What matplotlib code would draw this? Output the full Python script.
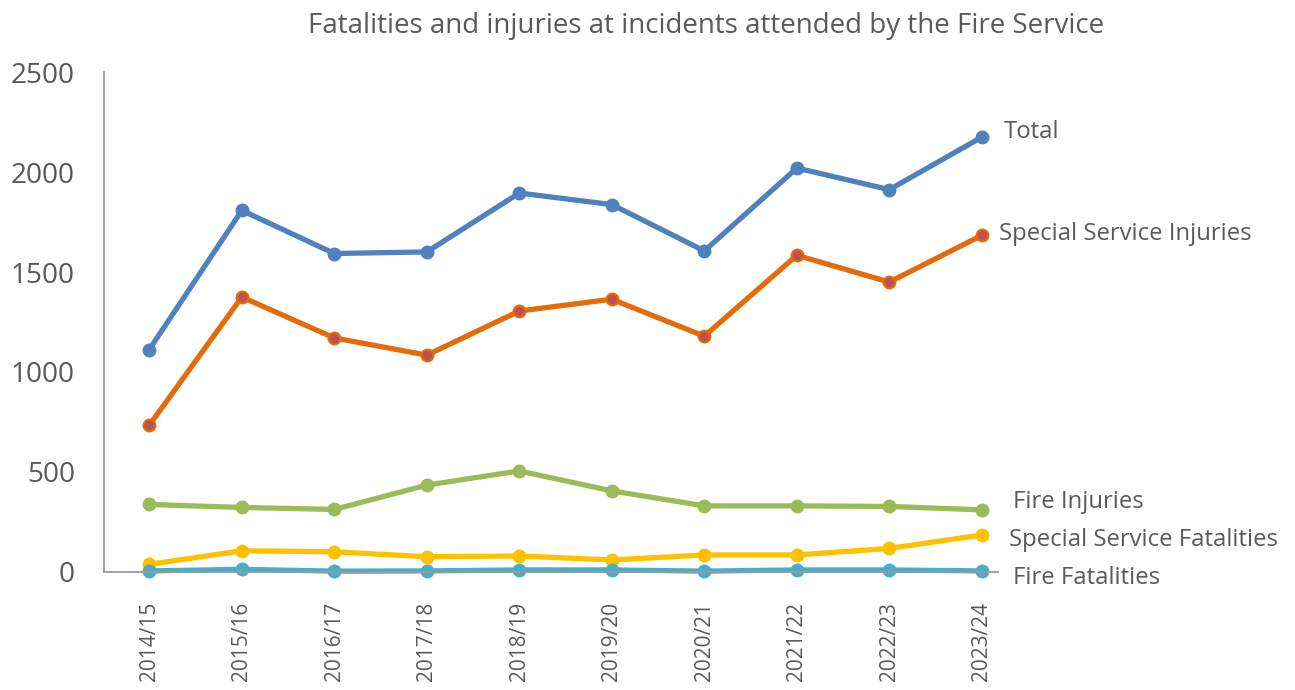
import numpy as np
import matplotlib
matplotlib.use("Agg")
import matplotlib.pyplot as plt

plt.rcParams['font.family'] = ['Open Sans', 'DejaVu Sans']

years = ['2014/15', '2015/16', '2016/17', '2017/18', '2018/19',
         '2019/20', '2020/21', '2021/22', '2022/23', '2023/24']
total = [1112, 1809, 1593, 1601, 1896, 1838, 1606, 2021, 1913, 2176]
special_injuries = [733, 1375, 1170, 1084, 1305, 1364, 1179, 1584, 1450, 1684]
fire_injuries = [336, 321, 311, 433, 504, 404, 329, 329, 326, 309]
special_fatalities = [36, 104, 99, 74, 78, 58, 83, 83, 116, 183]
fire_fatalities = [3, 11, 2, 3, 8, 8, 2, 8, 8, 3]
yticks = [0, 500, 1000, 1500, 2000, 2500]

txt = '#595959'

fig = plt.figure(figsize=(12.95, 6.9), dpi=100)
ax = fig.add_axes([0.0803, 0.1717, 0.690, 0.7233])

x = np.arange(len(years))

# (values, line colour, marker face, label, label offset in px)
series = [
    (total, '#4F81BD', '#4F81BD', 'Total', (22, 5)),
    (special_injuries, '#E36C09', '#C0504D', 'Special Service Injuries', (17, 1)),
    (fire_injuries, '#9BBB59', '#9BBB59', 'Fire Injuries', (31, 8)),
    (special_fatalities, '#FFC000', '#FFC000', 'Special Service Fatalities', (27, -5)),
    (fire_fatalities, '#4BACC6', '#4BACC6', 'Fire Fatalities', (31, -7)),
]

for vals, col, face, name, off in series:
    ax.plot(x, vals, color=col, lw=3.8, marker='o', markersize=8.5,
            markerfacecolor=face, markeredgecolor=col, markeredgewidth=1.5,
            solid_capstyle='round', clip_on=False)
    ax.annotate(name, xy=(x[-1], vals[-1]), xytext=off, textcoords='offset pixels',
                ha='left', va='center', fontsize=17.2, color=txt)

ax.set_xlim(-0.49, 9.17)
ax.set_ylim(0, 2500)
ax.set_xticks(x)
ax.set_xticklabels(years, rotation=90, fontsize=15, color=txt)
ax.set_yticks(yticks)
ax.set_yticklabels([str(v) for v in yticks], fontsize=20.2, color=txt)
ax.tick_params(axis='both', length=0)
ax.tick_params(axis='x', pad=22)
ax.tick_params(axis='y', pad=21)

for side in ['top', 'right']:
    ax.spines[side].set_visible(False)
for side in ['left', 'bottom']:
    ax.spines[side].set_color('#9a9a9a')
    ax.spines[side].set_linewidth(1.3)

fig.text(0.545, 0.963, 'Fatalities and injuries at incidents attended by the Fire Service',
         ha='center', va='center', fontsize=20, color=txt)

fig.savefig('out.png', dpi=100)
